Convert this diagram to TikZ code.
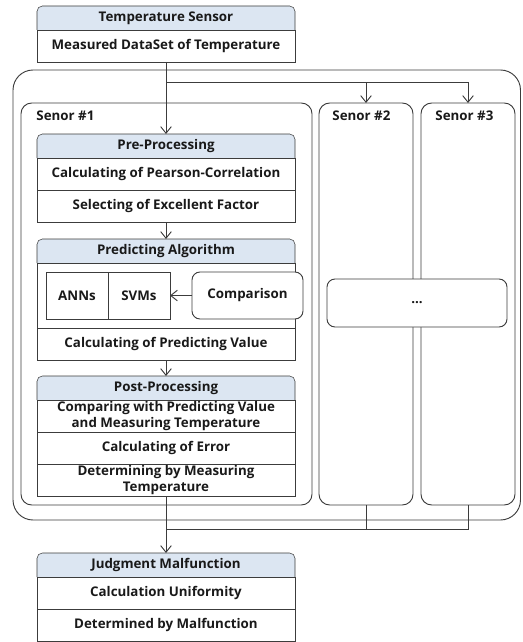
\documentclass[tikz,border=0pt]{standalone}
\usepackage{fontspec}
\setmainfont{Open Sans}
\usetikzlibrary{positioning}
\usetikzlibrary{arrows.meta}
\usetikzlibrary{backgrounds}
\definecolor{headblue}{RGB}{220,230,242}
\definecolor{linegray}{RGB}{60,60,60}

\begin{document}
\begin{tikzpicture}[x=0.75pt, y=-0.75pt, line width=0.7pt, draw=linegray,
                >={Straight Barb[length=5pt,width=8pt]},
                every node/.style={font=\bfseries\fontsize{10}{12.5}\selectfont, text=black!90},
                headnode/.style={minimum width=193.5pt, minimum height=18pt, inner sep=0pt, outer sep=0pt},
                rownode/.style={draw=linegray, minimum width=193.5pt, minimum height=24pt, inner sep=0pt, outer sep=0pt, align=center},
                headshape/.style={draw=linegray, fill=headblue, rounded corners=4pt},
                sensorbox/.style={draw=linegray, rounded corners=8pt, minimum height=301.5pt, outer sep=0pt},
                algonode/.style={draw=linegray, minimum width=46.5pt, minimum height=35.25pt, inner sep=0pt, outer sep=0pt},
                labelnode/.style={inner sep=0pt, anchor=base west},
            ]
            \useasboundingbox (0,0) rectangle (522,642);

            % Groups
            \node[draw=linegray, rounded corners=15pt, minimum width=380.6pt, minimum height=337.5pt, outer sep=0pt] (system) at (266.75,295) {};
            \node[sensorbox, minimum width=218.25pt] (senor_1) at (166.5,304) {};
            \node[sensorbox, minimum width=70.5pt]   (senor_2) at (366,304)   {};
            \node[sensorbox, minimum width=70.5pt]   (senor_3) at (468,304)   {};
            \node[labelnode] (label_1) at (36,120)  {Senor \#1};
            \node[labelnode] (label_2) at (332,120) {Senor \#2};
            \node[labelnode] (label_3) at (435,120) {Senor \#3};

            % Nodes
            \node[headnode]  (sensor_head)                            at (166,18)  {Temperature Sensor};
            \node[rownode]   (sensor_data)  [below=0pt of sensor_head]              {Measured DataSet of Temperature};

            \node[headnode]  (pre_head)                               at (166,146) {Pre-Processing};
            \node[rownode]   (pre_corr)     [below=0pt of pre_head]                 {Calculating of Pearson-Correlation};
            \node[rownode]   (pre_select)   [below=0pt of pre_corr]                 {Selecting of Excellent Factor};

            \node[headnode]  (pred_head)                              at (166,251) {Predicting Algorithm};
            \node[rownode, minimum height=48.75pt] (pred_models) [below=0pt of pred_head] {};
            \node[rownode]   (pred_value)   [below=0pt of pred_models]              {Calculating of Predicting Value};
            \node[algonode]  (anns)                                   at (77,295.5) {ANNs};
            \node[algonode]  (svms)         [right=0pt of anns]                     {SVMs};
            \node[algonode, fill=white, rounded corners=6pt, minimum width=83.25pt] (comparison) at (247.5,295.5) {Comparison};

            \node[headnode]  (post_head)                              at (166,388) {Post-Processing};
            \node[rownode]   (post_compare) [below=0pt of post_head]                {Comparing with Predicting Value\\and Measuring Temperature};
            \node[rownode]   (post_error)   [below=0pt of post_compare]             {Calculating of Error};
            \node[rownode]   (post_decide)  [below=0pt of post_error]               {Determining by Measuring\\Temperature};

            \node[headnode]  (judge_head)                             at (166,565) {Judgment Malfunction};
            \node[rownode]   (judge_unif)   [below=0pt of judge_head]               {Calculation Uniformity};
            \node[rownode]   (judge_malf)   [below=0pt of judge_unif]               {Determined by Malfunction};

            \node[draw=linegray, fill=white, rounded corners=6pt, minimum width=135pt, minimum height=36pt, outer sep=0pt] (others) at (417,303) {...};

            % Header shapes
            \begin{scope}[on background layer]
            \draw[headshape] (sensor_head.south west) |- (sensor_head.north) -| (sensor_head.south east);
            \draw[headshape] (pre_head.south west) |- (pre_head.north) -| (pre_head.south east);
            \draw[headshape] (pred_head.south west) |- (pred_head.north) -| (pred_head.south east);
            \draw[headshape] (post_head.south west) |- (post_head.north) -| (post_head.south east);
            \draw[headshape] (judge_head.south west) |- (judge_head.north) -| (judge_head.south east);
            \end{scope}

            %Lines
            \coordinate (fork) at (166,82);
            \coordinate (join) at (166,529);
            \draw[->] (sensor_data.south) -- (pre_head.north);
            \draw[->] (fork) -| (senor_2.north);
            \draw[->] (fork) -| (senor_3.north);
            \draw[->] (pre_select.south) -- (pred_head.north);
            \draw[->] (comparison.west) -- (svms.east);
            \draw[->] (pred_value.south) -- (post_head.north);
            \draw[->] (post_decide.south) -- (judge_head.north);
            \draw (senor_2.south) |- (join);
            \draw (senor_3.south) |- (join);
        \end{tikzpicture}
\end{document}
